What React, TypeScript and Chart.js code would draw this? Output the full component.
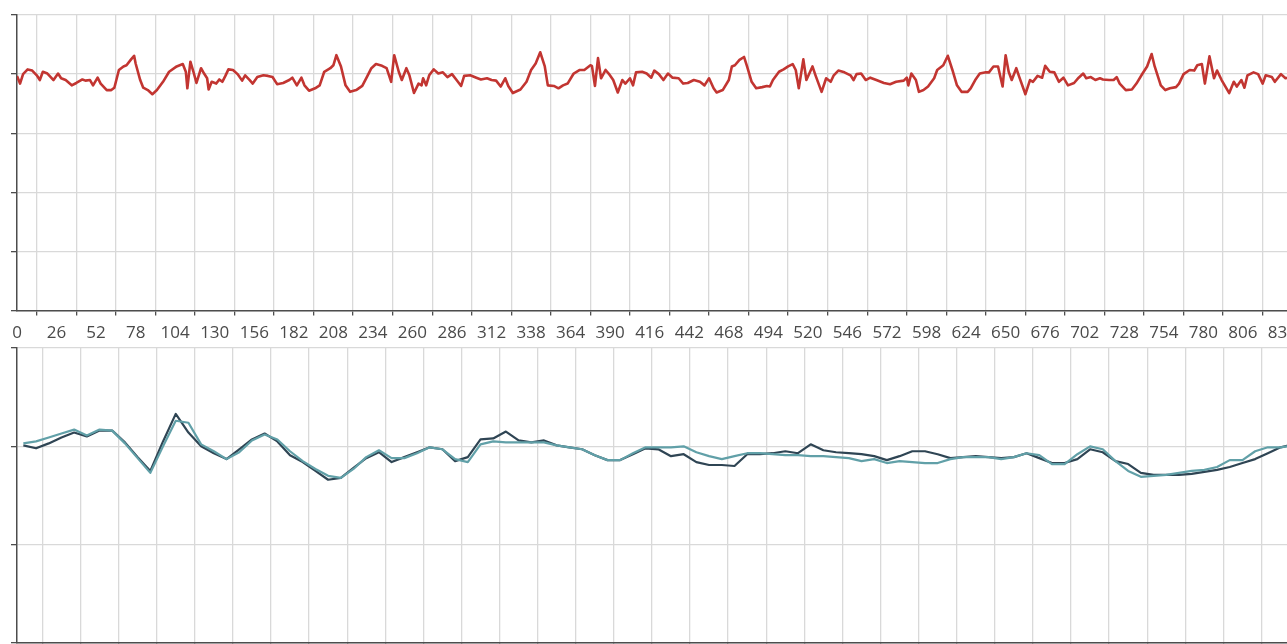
import React, { useEffect, useRef } from "react";
import { Chart, registerables } from "chart.js";

Chart.register(...registerables);

// ---- top panel: signal trace (x in samples, y in signal units)
const ECG_X = [
  0, 2, 4, 7, 10, 13, 15, 17, 20, 24,
  27, 29, 32, 36, 39, 43, 45, 48, 50, 53,
  55, 59, 62, 64, 67, 70, 72, 75, 77, 78,
  81, 83, 86, 89, 92, 96, 100, 105, 109, 111,
  112, 114, 116, 118, 121, 123, 125, 126, 128, 131,
  133, 135, 137, 139, 142, 145, 148, 150, 153, 155,
  158, 162, 165, 168, 171, 175, 179, 181, 184, 187,
  189, 192, 196, 199, 202, 206, 208, 210, 213, 216,
  219, 223, 227, 230, 233, 236, 240, 243, 246, 248,
  251, 253, 256, 258, 261, 264, 266, 267, 269, 271,
  274, 277, 280, 283, 286, 289, 292, 294, 298, 302,
  305, 309, 312, 315, 318, 321, 323, 326, 331, 335,
  338, 341, 344, 347, 349, 353, 356, 359, 362, 366,
  370, 373, 377, 378, 380, 382, 384, 387, 389, 392,
  395, 398, 400, 403, 405, 407, 411, 414, 417, 419,
  422, 425, 428, 431, 435, 438, 441, 445, 449, 452,
  455, 458, 460, 464, 468, 470, 472, 475, 478, 480,
  483, 486, 490, 493, 495, 497, 501, 504, 507, 510,
  512, 514, 517, 519, 523, 525, 529, 532, 535, 537,
  540, 544, 548, 550, 552, 555, 558, 561, 565, 570,
  574, 578, 583, 585, 586, 588, 591, 593, 596, 599,
  603, 605, 609, 612, 615, 618, 621, 625, 627, 630,
  633, 637, 639, 642, 645, 648, 650, 652, 654, 657,
  659, 663, 666, 668, 671, 674, 676, 679, 682, 685,
  688, 691, 695, 698, 701, 703, 706, 709, 712, 714,
  718, 721, 723, 725, 729, 733, 736, 740, 743, 746,
  748, 752, 755, 758, 762, 764, 767, 771, 774, 776,
  779, 781, 784, 787, 789, 792, 797, 800, 802, 805,
  807, 809, 813, 816, 819, 821, 825, 827, 831, 834,
  838,
];
const ECG_Y = [
  -0.03, -0.16, 0.0, 0.08, 0.06, -0.02, -0.1, 0.04, 0.01, -0.1,
  0.01, -0.07, -0.1, -0.19, -0.15, -0.09, -0.11, -0.1, -0.19, -0.06,
  -0.16, -0.27, -0.27, -0.23, 0.07, 0.13, 0.15, 0.25, 0.31, 0.18,
  -0.1, -0.23, -0.27, -0.34, -0.27, -0.13, 0.04, 0.13, 0.17, 0.04,
  -0.24, 0.21, 0.04, -0.15, 0.1, 0.01, -0.07, -0.26, -0.13, -0.16,
  -0.09, -0.13, -0.03, 0.08, 0.07, 0.0, -0.11, -0.02, -0.1, -0.16,
  -0.05, -0.02, -0.03, -0.05, -0.17, -0.15, -0.1, -0.06, -0.19, -0.06,
  -0.19, -0.28, -0.24, -0.19, 0.04, 0.1, 0.15, 0.32, 0.13, -0.19,
  -0.3, -0.27, -0.2, -0.05, 0.1, 0.17, 0.14, 0.1, -0.13, 0.32,
  0.04, -0.1, 0.1, -0.02, -0.32, -0.16, -0.19, -0.07, -0.19, -0.02,
  0.08, 0.01, 0.03, -0.05, 0.0, -0.1, -0.2, -0.03, -0.02, -0.06,
  -0.09, -0.07, -0.1, -0.11, -0.21, -0.07, -0.2, -0.32, -0.26, -0.13,
  0.07, 0.18, 0.37, 0.13, -0.19, -0.2, -0.24, -0.19, -0.16, 0.01,
  0.07, 0.07, 0.15, 0.14, -0.2, 0.27, -0.07, 0.07, 0.01, -0.1,
  -0.31, -0.1, -0.16, -0.07, -0.19, 0.03, 0.04, 0.01, -0.06, 0.06,
  0.0, -0.1, 0.01, -0.06, -0.07, -0.16, -0.15, -0.1, -0.13, -0.19,
  -0.07, -0.24, -0.31, -0.27, -0.1, 0.13, 0.15, 0.24, 0.29, 0.13,
  -0.13, -0.24, -0.22, -0.2, -0.21, -0.1, 0.04, 0.08, 0.13, 0.17,
  0.07, -0.24, 0.25, -0.1, 0.13, -0.02, -0.3, -0.07, -0.13, -0.02,
  0.06, 0.03, -0.02, -0.1, 0.0, 0.01, -0.1, -0.06, -0.1, -0.15,
  -0.17, -0.13, -0.11, -0.06, -0.19, 0.01, -0.1, -0.3, -0.27, -0.21,
  -0.07, 0.07, 0.15, 0.31, 0.07, -0.19, -0.3, -0.3, -0.24, -0.1,
  0.01, 0.03, 0.03, 0.13, 0.13, -0.21, 0.32, 0.04, -0.1, 0.1,
  -0.05, -0.34, -0.1, -0.13, -0.03, -0.06, 0.14, 0.04, 0.03, -0.13,
  -0.06, -0.19, -0.15, -0.06, 0.01, -0.07, -0.05, -0.1, -0.07, -0.09,
  -0.1, -0.1, -0.05, -0.16, -0.27, -0.26, -0.16, 0.01, 0.13, 0.34,
  0.13, -0.19, -0.27, -0.24, -0.22, -0.16, 0.0, 0.07, 0.06, 0.15,
  0.17, -0.16, 0.3, -0.07, 0.06, -0.1, -0.32, -0.13, -0.21, -0.1,
  -0.23, -0.02, 0.03, 0.0, -0.16, -0.02, -0.05, -0.13, 0.0, -0.07,
  -0.05,
];
const TOP_X_TICKS = [
  0, 26, 52, 78, 104, 130, 156, 182, 208, 234, 260, 286, 312, 338, 364, 390, 416,
  442, 468, 494, 520, 546, 572, 598, 624, 650, 676, 702, 728, 754, 780, 806, 832,
];
const TOP_Y_TICKS = [-4, -3, -2, -1, 0, 1];

// ---- bottom panel: two derived series (x = point index)
const BOTTOM_X_TICKS = [
  0, 3, 6, 9, 12, 15, 18, 21, 24, 27, 30, 33, 36, 39, 42, 45, 48,
  51, 54, 57, 60, 63, 66, 69, 72, 75, 78, 81, 84, 87, 90, 93, 96, 99,
];
const BOTTOM_Y_TICKS = [-2, -1, 0, 1];
const SERIES_A = [
  0.01, -0.02, 0.03, 0.09, 0.14, 0.1, 0.16, 0.16, 0.04, -0.11,
  -0.25, 0.05, 0.33, 0.14, 0.0, -0.07, -0.13, -0.03, 0.07, 0.13,
  0.05, -0.09, -0.16, -0.25, -0.34, -0.32, -0.22, -0.12, -0.06, -0.16,
  -0.11, -0.06, -0.01, -0.03, -0.15, -0.11, 0.07, 0.08, 0.15, 0.06,
  0.04, 0.06, 0.01, -0.01, -0.03, -0.09, -0.14, -0.14, -0.08, -0.02,
  -0.03, -0.1, -0.08, -0.16, -0.19, -0.19, -0.2, -0.08, -0.08, -0.07,
  -0.05, -0.07, 0.02, -0.04, -0.06, -0.07, -0.08, -0.1, -0.14, -0.1,
  -0.05, -0.05, -0.08, -0.12, -0.11, -0.1, -0.11, -0.12, -0.11, -0.07,
  -0.12, -0.17, -0.17, -0.13, -0.03, -0.06, -0.15, -0.18, -0.27, -0.29,
  -0.29, -0.29, -0.28, -0.26, -0.24, -0.21, -0.17, -0.13, -0.07, -0.01,
  0.02,
];
const SERIES_B = [
  0.03, 0.05, 0.09, 0.13, 0.17, 0.11, 0.17, 0.16, 0.03, -0.12,
  -0.27, 0.0, 0.26, 0.24, 0.02, -0.05, -0.13, -0.06, 0.06, 0.12,
  0.07, -0.05, -0.15, -0.23, -0.3, -0.32, -0.23, -0.11, -0.04, -0.12,
  -0.12, -0.07, -0.01, -0.03, -0.13, -0.16, 0.02, 0.05, 0.04, 0.04,
  0.04, 0.04, 0.01, -0.01, -0.03, -0.09, -0.14, -0.14, -0.07, -0.01,
  -0.01, -0.01, 0.0, -0.06, -0.1, -0.13, -0.1, -0.07, -0.07, -0.08,
  -0.09, -0.09, -0.1, -0.1, -0.11, -0.12, -0.15, -0.13, -0.17, -0.15,
  -0.16, -0.17, -0.17, -0.13, -0.11, -0.11, -0.11, -0.13, -0.11, -0.07,
  -0.09, -0.18, -0.18, -0.08, 0.0, -0.03, -0.15, -0.25, -0.31, -0.3,
  -0.29, -0.27, -0.25, -0.24, -0.21, -0.14, -0.14, -0.05, -0.01, -0.01,
  0.01,
];

const GRID = "#d9d9d9";
const AXIS = "#4d4d4d";
const LABEL = "#4a4a4a";

export default function App() {
  const topRef = useRef<HTMLCanvasElement>(null);
  const botRef = useRef<HTMLCanvasElement>(null);

  useEffect(() => {
    const fixTicks = (vals: number[]) => (scale: any) => {
      scale.ticks = vals.map((value) => ({ value }));
    };
    const noPad = (scale: any) => {
      scale.paddingLeft = 0;
      scale.paddingRight = 0;
    };

    const top = new Chart(topRef.current as HTMLCanvasElement, {
      type: "line",
      data: {
        datasets: [
          {
            data: ECG_X.map((x, i) => ({ x, y: ECG_Y[i] })),
            borderColor: "#c23531",
            borderWidth: 2.6,
            borderJoinStyle: "round",
            pointRadius: 0,
            tension: 0,
            fill: false,
          },
        ],
      },
      options: {
        animation: false,
        responsive: false,
        devicePixelRatio: 1,
        layout: { padding: { left: 3, top: 7, right: 0, bottom: 0 } },
        plugins: { legend: { display: false }, tooltip: { enabled: false } },
        scales: {
          x: {
            type: "linear",
            min: 0,
            max: 858,
            afterBuildTicks: fixTicks(TOP_X_TICKS),
            afterFit: noPad,
            ticks: {
              autoSkip: false,
              maxRotation: 0,
              minRotation: 0,
              padding: 7,
              color: LABEL,
              font: { family: "'Open Sans', sans-serif", size: 17 },
              callback: (v: any) => String(v),
            },
            grid: { offset: true, color: GRID, lineWidth: 1.3, tickColor: AXIS, tickLength: 5, tickWidth: 1.3 },
            border: { color: AXIS, width: 1.5 },
          },
          y: {
            type: "linear",
            min: -4,
            max: 1,
            afterBuildTicks: fixTicks(TOP_Y_TICKS),
            ticks: { display: false },
            grid: { color: GRID, lineWidth: 1.3, tickColor: AXIS, tickLength: 6, tickWidth: 1.3 },
            border: { color: AXIS, width: 1.5 },
          },
        },
      },
    } as any);

    const bot = new Chart(botRef.current as HTMLCanvasElement, {
      type: "line",
      data: {
        datasets: [
          {
            data: SERIES_B.map((y, i) => ({ x: i, y })),
            borderColor: "#61a0a8",
            borderWidth: 2.2,
            borderJoinStyle: "round",
            pointRadius: 0,
            tension: 0,
            fill: false,
          },
          {
            data: SERIES_A.map((y, i) => ({ x: i, y })),
            borderColor: "#2f4554",
            borderWidth: 2.2,
            borderJoinStyle: "round",
            pointRadius: 0,
            tension: 0,
            fill: false,
          },
        ],
      },
      options: {
        animation: false,
        responsive: false,
        devicePixelRatio: 1,
        layout: { padding: { left: 3, top: 5, right: 0, bottom: 0 } },
        plugins: { legend: { display: false }, tooltip: { enabled: false } },
        scales: {
          x: {
            type: "linear",
            min: -0.5,
            max: 102.5,
            afterBuildTicks: fixTicks(BOTTOM_X_TICKS),
            afterFit: noPad,
            ticks: { display: false },
            grid: { offset: true, color: GRID, lineWidth: 1.3, tickColor: AXIS, tickLength: 5, tickWidth: 1.3 },
            border: { color: AXIS, width: 1.5 },
          },
          y: {
            type: "linear",
            min: -2,
            max: 1,
            afterBuildTicks: fixTicks(BOTTOM_Y_TICKS),
            ticks: { display: false },
            grid: { color: GRID, lineWidth: 1.3, tickColor: AXIS, tickLength: 6, tickWidth: 1.3 },
            border: { color: AXIS, width: 1.5 },
          },
        },
      },
    } as any);

    return () => {
      top.destroy();
      bot.destroy();
    };
  }, []);

  return (
    <div style={{ position: "fixed", left: 8, top: 8, width: 1279, height: 636, overflow: "hidden" }}>
      <canvas
        ref={topRef}
        width={1314}
        height={342}
        style={{ position: "absolute", left: 0, top: 0, width: 1314, height: 342 }}
      />
      <canvas
        ref={botRef}
        width={1317}
        height={305}
        style={{ position: "absolute", left: 0, top: 335, width: 1317, height: 305 }}
      />
    </div>
  );
}
